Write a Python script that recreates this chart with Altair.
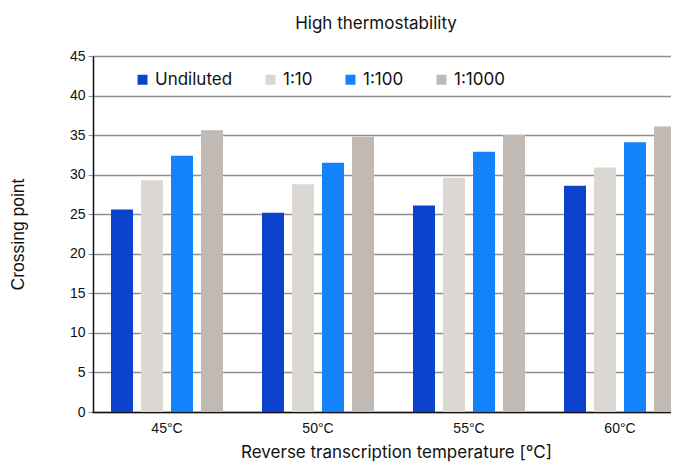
import altair as alt
import pandas as pd

temperatures = ["45°C", "50°C", "55°C", "60°C"]
dilutions = ["Undiluted", "1:10", "1:100", "1:1000"]
undiluted = [25.6, 25.2, 26.1, 28.6]
d10 = [29.3, 28.8, 29.6, 30.9]
d100 = [32.4, 31.5, 32.9, 34.1]
d1000 = [35.6, 34.8, 35.0, 36.1]
colors = ["#0c43cd", "#dbd7d3", "#1482fa", "#c1b9b4"]

rows = []
for name, vals in zip(dilutions, [undiluted, d10, d100, d1000]):
    for t, v in zip(temperatures, vals):
        rows.append({"temp": t, "dilution": name, "value": v})
df = pd.DataFrame(rows)

FONT = "Inter"
SANS = "Liberation Sans"

chart = alt.Chart(df).mark_bar().encode(
    x=alt.X("temp:N", sort=temperatures,
            scale=alt.Scale(range=[-1.5, 602.5], paddingInner=0, paddingOuter=0),
            axis=alt.Axis(title="Reverse transcription temperature [°C]", labelAngle=0,
                          ticks=False, labelPadding=9, labelFontSize=14, labelFont=SANS,
                          titleFont=FONT, titleFontSize=17, titleFontWeight="normal",
                          titleX=303, titleY=40, titleBaseline="middle",
                          domainColor="#111111", domainWidth=1.5)),
    xOffset=alt.XOffset("dilution:N", sort=dilutions,
                        scale=alt.Scale(paddingInner=0.267, paddingOuter=0.65)),
    y=alt.Y("value:Q", scale=alt.Scale(domain=[0, 45]),
            axis=alt.Axis(title="Crossing point", values=list(range(0, 50, 5)),
                          tickSize=5, tickColor="#909090", labelPadding=3,
                          labelFontSize=14, labelFont=SANS,
                          titleFont=SANS, titleFontSize=17.5, titleFontWeight="normal",
                          titleX=-75, titleY=178, titleAngle=-90,
                          titleAlign="center", titleBaseline="middle",
                          grid=True, gridColor="#8f8f8f", gridWidth=1.5,
                          domainColor="#111111", domainWidth=1.5)),
    color=alt.Color("dilution:N", sort=dilutions,
                    scale=alt.Scale(domain=dilutions, range=colors),
                    legend=alt.Legend(title=None, orient="none", direction="horizontal",
                                      legendX=41, legendY=15, symbolType="square",
                                      symbolSize=100, symbolStrokeWidth=0,
                                      labelFont=FONT, labelFontSize=17, labelOffset=4,
                                      columnPadding=29, padding=0, labelColor="#111111")),
).properties(
    width=578, height=356,
    title=alt.TitleParams("High thermostability", font=FONT, fontSize=17,
                          fontWeight="normal", dx=-6, offset=16, color="#111111"),
    autosize=alt.AutoSizeParams(type="none"),
    padding={"left": 85, "top": 48, "right": 0, "bottom": 52},
).configure(font=FONT).configure_axis(
    labelColor="#111111", titleColor="#111111"
).configure_view(stroke=None)

chart.save("out.html", embed_options={"renderer": "svg", "actions": False})
